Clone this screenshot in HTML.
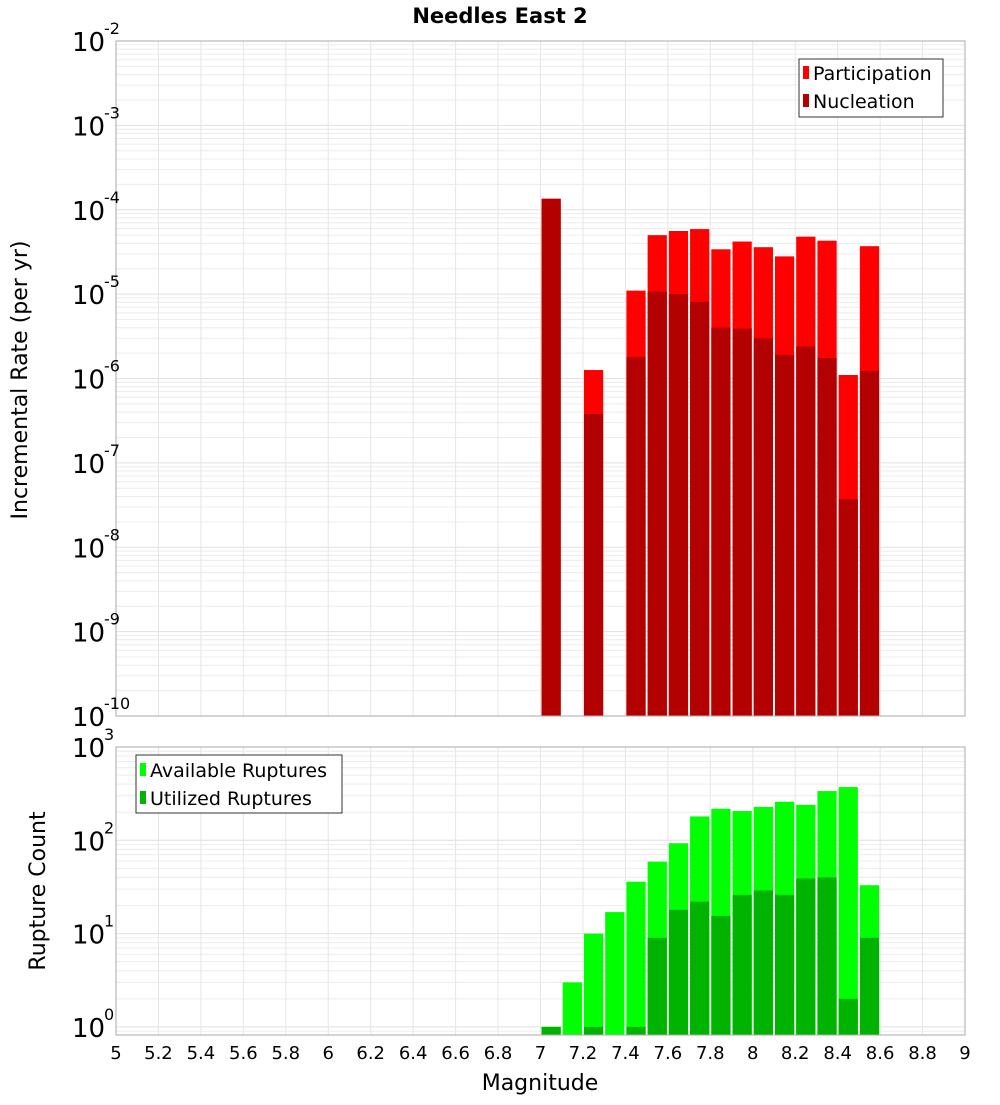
<!DOCTYPE html>
<html><head><meta charset="utf-8"><style>
body{margin:0;background:#fff;font-family:"Liberation Sans","DejaVu Sans",sans-serif}
svg text{font-family:"DejaVu Sans","Liberation Sans",sans-serif}
</style></head><body>
<svg id="c" width="1000" height="1100" viewBox="0 0 1000 1100">
<text x="500" y="23" text-anchor="middle" font-size="21" font-weight="bold">Needles East 2</text>
<g id="topPanel"></g>
<g id="botPanel"></g>
<text transform="translate(27,380) rotate(-90)" text-anchor="middle" font-size="22">Incremental Rate (per yr)</text>
<text transform="translate(45,891) rotate(-90)" text-anchor="middle" font-size="22">Rupture Count</text>
<text x="540" y="1090" text-anchor="middle" font-size="22">Magnitude</text>
<g>
<rect x="799" y="59" width="144" height="58" fill="#fff" stroke="#333"/>
<rect x="803" y="66" width="6" height="13" fill="#ff0000"/><text x="813" y="80" font-size="19">Participation</text>
<rect x="803" y="94" width="6" height="13" fill="#b30000"/><text x="813" y="108" font-size="19">Nucleation</text>
</g>
<g>
<rect x="136" y="755" width="206" height="58" fill="#fff" stroke="#333"/>
<rect x="140" y="763" width="6" height="13" fill="#00ff00"/><text x="150" y="777" font-size="19">Available Ruptures</text>
<rect x="140" y="791" width="6" height="13" fill="#00b300"/><text x="150" y="805" font-size="19">Utilized Ruptures</text>
</g>
</svg>
<script>
const mags=[7.0,7.1,7.2,7.3,7.4,7.5,7.6,7.7,7.8,7.9,8.0,8.1,8.2,8.3,8.4,8.5];
const participation=[1.35e-4,0,1.26e-6,0,1.1e-5,5e-5,5.6e-5,5.9e-5,3.4e-5,4.2e-5,3.6e-5,2.8e-5,4.8e-5,4.3e-5,1.1e-6,3.7e-5];
const nucleation=[1.35e-4,0,3.8e-7,0,1.8e-6,1.07e-5,1.0e-5,8.1e-6,4e-6,3.9e-6,3e-6,1.9e-6,2.4e-6,1.75e-6,3.7e-8,1.23e-6];
const available=[1,3.0,10,17,36,59,93,180,218,206,228,259,240,337,372,33];
const utilized=[1,0,1,0,1,9,18,22,15.5,26,29,26,39,40,2,9];
const xTicks=[5,5.2,5.4,5.6,5.8,6,6.2,6.4,6.6,6.8,7,7.2,7.4,7.6,7.8,8,8.2,8.4,8.6,8.8,9];
const topExp=[-2,-3,-4,-5,-6,-7,-8,-9,-10];
const botExp=[3,2,1,0];
const NS="http://www.w3.org/2000/svg";
const X0=116,X1=965;
const xs=m=>X0+(m-5)/4*(X1-X0);
function el(p,t,a,name){const e=document.createElementNS(NS,t);for(const k in a)e.setAttribute(k,a[k]);


p.appendChild(e);return e;}
function panel(g,yTop,yBot,yf,lo,hi,exps,s1,s2,n1,n2,c1,c2){
  el(g,'rect',{x:X0,y:yTop,width:X1-X0,height:yBot-yTop,fill:'#fff'},'plot-area');
  for(let e=lo;e<hi;e++)for(let k=1;k<10;k++){const yy=yf(k*Math.pow(10,e));if(yy<yTop||yy>yBot)continue;
    el(g,'line',{x1:X0,x2:X1,y1:yy,y2:yy,stroke:k==1?'#e0e0e0':'#ececec','stroke-width':1},'h-gridline');}
  xTicks.forEach(m=>el(g,'line',{x1:xs(m),x2:xs(m),y1:yTop,y2:yBot,stroke:'#e6e6e6'},'v-gridline'));
  mags.forEach((m,i)=>{
    const l=xs(m)+1,w=xs(m+0.1)-xs(m)-2;
    if(s1[i]>0){const yy=Math.max(yTop,yf(s1[i]));el(g,'rect',{x:l,y:yy,width:w,height:yBot-yy,fill:c1},n1);}
    if(s2[i]>0){const yy=Math.max(yTop,yf(s2[i]));el(g,'rect',{x:l,y:yy,width:w,height:yBot-yy,fill:c2},n2);}
  });
  el(g,'rect',{x:X0,y:yTop,width:X1-X0,height:yBot-yTop,fill:'none',stroke:'#aaa'},'plot-border');
  exps.forEach(e=>{const yy=yf(Math.pow(10,e));
    const t=el(g,'text',{x:72,y:yy+10,'font-size':26},'y-tick-label');t.textContent='10';
    const s=el(g,'text',{x:104,y:yy-7,'font-size':16},'y-tick-exponent');s.textContent=String(e);});
}
const topG=document.getElementById('topPanel'),botG=document.getElementById('botPanel');
const yT=v=>41+(-2-Math.log10(v))*84.375;
panel(topG,41,716,yT,-10,-2,topExp,participation,nucleation,'participation-bar','nucleation-bar','#ff0000','#b30000');
const yB=v=>747+(3-Math.log10(v))*93.3;
panel(botG,747,1035,yB,-1,3,botExp,available,utilized,'available-bar','utilized-bar','#00ff00','#00b300');
xTicks.forEach(m=>{const t=el(botG,'text',{x:xs(m),y:1059,'text-anchor':'middle','font-size':18},'x-tick-label');t.textContent=String(m);});
</script>
</body></html>
